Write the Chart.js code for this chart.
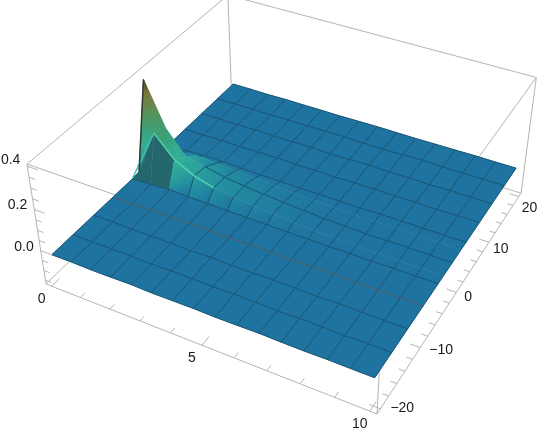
<!DOCTYPE html>
<html lang="en">
<head>
    <meta charset="UTF-8">
    <title>Surface plot</title>
    <script src="https://cdn.jsdelivr.net/npm/chart.js"></script>
    <style>
        body { margin: 0; background: #ffffff; }
        canvas { display: block; }
    </style>
</head>
<body>
    <canvas id="surfaceChart" width="540" height="437"></canvas>

    <script>
        // axis values
        const xNodes = [0, 0.667, 1.333, 2, 2.667, 3.333, 4, 4.667, 5.333, 6, 6.667, 7.333, 8, 8.667, 9.333, 10];
        const yNodes = [-20, -16, -12, -8, -4, -2.5, 0, 2.5, 4, 8, 12, 16, 20];
        const yMeshNodes = [-20, -16, -12, -8, -4, 0, 4, 8, 12, 16, 20];
        const xMajorTicks = [0, 5, 10];
        const xMinorTicks = [1, 2, 3, 4, 6, 7, 8, 9];
        const yMajorTicks = [-20, -10, 0, 10, 20];
        const yMinorTicks = [-18, -16, -14, -12, -8, -6, -4, -2, 2, 4, 6, 8, 12, 14, 16, 18];
        const zMajorTicks = [0.0, 0.2, 0.4];
        const zMinorTicks = [-0.15, -0.1, -0.05, 0.05, 0.1, 0.15, 0.25, 0.3, 0.35];
        const xLabels = ['0', '5', '10'];
        const yLabels = ['\u221220', '\u221210', '0', '10', '20'];
        const zLabels = ['0.0', '0.2', '0.4'];

        // surface heights, one row per yNodes entry, one column per xNodes entry
        const zRow0  = [-.030, -.029, -.031, -.030, -.028, -.031, -.030, -.029, -.031, -.030, -.028, -.030, -.031, -.029, -.030, -.030];
        const zRow1  = [-.030, -.031, -.029, -.030, -.032, -.029, -.030, -.031, -.028, -.030, -.032, -.029, -.030, -.031, -.029, -.030];
        const zRow2  = [-.030, -.028, -.031, -.029, -.030, -.032, -.028, -.030, -.031, -.029, -.030, -.032, -.028, -.030, -.031, -.030];
        const zRow3  = [-.030, -.031, -.028, -.032, -.029, -.030, -.032, -.028, -.030, -.032, -.029, -.028, -.032, -.030, -.029, -.030];
        const zRow4  = [-.030, -.024, -.020, -.022, -.024, -.026, -.027, -.028, -.029, -.030, -.031, -.030, -.031, -.029, -.030, -.030];
        const zRow5  = [-.026, .200, .100, .050, .022, .008, -.002, -.010, -.018, -.024, -.028, -.030, -.030, -.031, -.030, -.030];
        const zRow6  = [.380, .170, .060, .040, .018, .006, -.003, -.011, -.018, -.024, -.028, -.030, -.030, -.029, -.030, -.030];
        const zRow7  = [-.028, -.005, .008, .002, -.004, -.010, -.016, -.021, -.025, -.028, -.030, -.030, -.030, -.031, -.030, -.030];
        const zRow8  = [-.030, -.028, -.024, -.024, -.026, -.028, -.029, -.030, -.029, -.030, -.031, -.029, -.030, -.030, -.031, -.030];
        const zRow9  = [-.030, -.032, -.029, -.031, -.030, -.028, -.031, -.030, -.032, -.029, -.030, -.031, -.029, -.032, -.030, -.030];
        const zRow10 = [-.030, -.029, -.031, -.028, -.031, -.030, -.029, -.032, -.030, -.028, -.031, -.030, -.032, -.029, -.030, -.030];
        const zRow11 = [-.030, -.031, -.030, -.032, -.029, -.031, -.030, -.029, -.031, -.032, -.030, -.028, -.030, -.031, -.029, -.030];
        const zRow12 = [-.030, -.030, -.031, -.029, -.030, -.030, -.031, -.030, -.029, -.030, -.031, -.030, -.030, -.029, -.030, -.030];
        const zRows = [zRow0, zRow1, zRow2, zRow3, zRow4, zRow5, zRow6, zRow7, zRow8, zRow9, zRow10, zRow11, zRow12];

        // height colours, low to high
        const colorHeights = [-0.03, -0.01, 0.01, 0.04, 0.09, 0.16, 0.24, 0.32, 0.38];
        const colorStops = [[31, 115, 160], [32, 125, 160], [34, 138, 160], [40, 155, 158], [50, 175, 150], [60, 160, 120], [90, 145, 85], [125, 120, 60], [60, 55, 35]];

        // box limits
        const xMin = -0.2, xMax = 10.2;
        const yMin = -20.8, yMax = 20.8;
        const zMin = -0.17, zMax = 0.41;

        // perspective camera, from where the box corners land in the window
        const corner = { o: [46, 284], u: [377, 414], v: [232, 105], w: [27, 164] };
        const depth = { u: 0.89, v: 1.2, w: 0.93 };

        function project(x, y, z) {
            const a = (x - xMin) / (xMax - xMin);
            const b = (y - yMin) / (yMax - yMin);
            const c = (z - zMin) / (zMax - zMin);
            const d = 1 + a * (depth.u - 1) + b * (depth.v - 1) + c * (depth.w - 1);
            const px = corner.o[0] + a * (depth.u * corner.u[0] - corner.o[0]) + b * (depth.v * corner.v[0] - corner.o[0]) + c * (depth.w * corner.w[0] - corner.o[0]);
            const py = corner.o[1] + a * (depth.u * corner.u[1] - corner.o[1]) + b * (depth.v * corner.v[1] - corner.o[1]) + c * (depth.w * corner.w[1] - corner.o[1]);
            return { x: px / d, y: py / d };
        }

        function heightColor(z) {
            let i = 0;
            while (i < colorHeights.length - 2 && z > colorHeights[i + 1]) i++;
            let t = (z - colorHeights[i]) / (colorHeights[i + 1] - colorHeights[i]);
            t = Math.max(0, Math.min(1, t));
            const c = colorStops[i].map((v, n) => Math.round(v + (colorStops[i + 1][n] - v) * t));
            return 'rgb(' + c.join(',') + ')';
        }

        const canvas = document.getElementById('surfaceChart');
        const ctx = canvas.getContext('2d');
        const paintList = [];   // back to front

        function addLine(points, color, width) {
            paintList.push({
                data: points,
                borderColor: color,
                borderWidth: width,
                pointRadius: 0,
                fill: false,
                tension: 0
            });
        }

        // box edges
        const boxColor = '#b4b4b4';
        const boxEdges = [
            [[xMin, yMin, zMin], [xMax, yMin, zMin]],
            [[xMin, yMin, zMin], [xMin, yMax, zMin]],
            [[xMax, yMin, zMin], [xMax, yMax, zMin]],
            [[xMin, yMax, zMin], [xMax, yMax, zMin]],
            [[xMin, yMin, zMax], [xMax, yMin, zMax]],
            [[xMin, yMin, zMax], [xMin, yMax, zMax]],
            [[xMax, yMin, zMax], [xMax, yMax, zMax]],
            [[xMin, yMax, zMax], [xMax, yMax, zMax]],
            [[xMin, yMin, zMin], [xMin, yMin, zMax]],
            [[xMax, yMin, zMin], [xMax, yMin, zMax]],
            [[xMax, yMax, zMin], [xMax, yMax, zMax]],
            [[xMin, yMax, zMin], [xMin, yMax, zMax]]
        ];
        boxEdges.forEach(e => addLine([project(...e[0]), project(...e[1])], boxColor, 1));

        // ticks
        xMajorTicks.forEach(t => addLine([project(t, yMin, zMin), project(t, yMin + 1.5, zMin)], boxColor, 1));
        xMinorTicks.forEach(t => addLine([project(t, yMin, zMin), project(t, yMin + 0.9, zMin)], boxColor, 1));
        yMajorTicks.forEach(t => addLine([project(xMax, t, zMin), project(xMax - 0.3, t, zMin)], boxColor, 1));
        yMinorTicks.forEach(t => addLine([project(xMax, t, zMin), project(xMax - 0.18, t, zMin)], boxColor, 1));
        zMajorTicks.forEach(t => addLine([project(xMin, yMin, t), project(xMin + 0.35, yMin, t)], boxColor, 1));
        zMinorTicks.forEach(t => addLine([project(xMin, yMin, t), project(xMin + 0.2, yMin, t)], boxColor, 1));

        const meshColor = '#1a5676';
        const steepColor = 'rgb(36,104,110)';

        // surface cells, far rows first
        for (let j = yNodes.length - 2; j >= 0; j--) {
            for (let i = 0; i < xNodes.length - 1; i++) {
                const zs = [zRows[j][i], zRows[j][i + 1], zRows[j + 1][i + 1], zRows[j + 1][i]];
                const pts = [
                    project(xNodes[i], yNodes[j], zs[0]),
                    project(xNodes[i + 1], yNodes[j], zs[1]),
                    project(xNodes[i + 1], yNodes[j + 1], zs[2]),
                    project(xNodes[i], yNodes[j + 1], zs[3])
                ];
                const lo = zs.indexOf(Math.min(...zs));
                const hi = zs.indexOf(Math.max(...zs));
                const rise = (zs[2] + zs[3] - zs[0] - zs[1]) / 2;

                let fillColor = heightColor((zs[lo] + zs[hi]) / 2);
                if (rise > 0.1 && zs[hi] < 0.3) {
                    fillColor = steepColor;   // front slope of the ridge is in shade
                } else if (zs[hi] - zs[lo] > 0.006) {
                    const g = ctx.createLinearGradient(pts[lo].x, pts[lo].y, pts[hi].x, pts[hi].y);
                    g.addColorStop(0, heightColor(zs[lo]));
                    colorHeights.forEach(h => {
                        if (h > zs[lo] && h < zs[hi]) g.addColorStop((h - zs[lo]) / (zs[hi] - zs[lo]), heightColor(h));
                    });
                    g.addColorStop(1, heightColor(zs[hi]));
                    fillColor = g;
                }
                paintList.push({
                    data: [...pts, pts[0]],
                    backgroundColor: fillColor,
                    borderColor: fillColor,
                    borderWidth: 0.5,
                    pointRadius: 0,
                    fill: 'shape',
                    tension: 0
                });

                // mesh lines stay off the tall part of the ridge
                const flatEnough = (a, b) => Math.max(a, b) < 0.06;
                if (yMeshNodes.includes(yNodes[j + 1]) && flatEnough(zs[2], zs[3])) addLine([pts[3], pts[2]], meshColor, 1);
                if (yMeshNodes.includes(yNodes[j]) && flatEnough(zs[0], zs[1])) addLine([pts[0], pts[1]], meshColor, 1);
                if (flatEnough(zs[0], zs[3])) addLine([pts[0], pts[3]], meshColor, 1);
                if (flatEnough(zs[1], zs[2])) addLine([pts[1], pts[2]], meshColor, 1);
            }
        }

        // the brownish mesh line across the flat part
        addLine(xNodes.map((x, i) => project(x, yNodes[3], zRows[3][i])), '#56666f', 1);

        // bright streaks and the dark edge of the spike
        addLine([1, 2, 3, 4].map(i => project(xNodes[i], yNodes[5], zRows[5][i])), '#55d0b0', 1.5);
        addLine([project(xNodes[0], yNodes[4], zRows[4][0]), project(xNodes[1], yNodes[5], zRows[5][1])], '#48bca2', 1.5);
        addLine([project(xNodes[0], yNodes[5], zRows[5][0]), project(xNodes[0], yNodes[6], zRows[6][0])], '#2c3a2c', 1.5);

        const yLabelDx = [10, 9, 8, 4, 3];
        const yLabelDy = [-1, 3, 5, 7, 12];
        const zLabelDy = [-3, -4, -6];

        const tickText = {
            id: 'tickText',
            afterDraw(chart) {
                const c = chart.ctx;
                c.save();
                c.font = "14px 'Liberation Sans'";
                c.fillStyle = '#1a1a1a';
                c.textBaseline = 'middle';
                c.textAlign = 'center';
                xMajorTicks.forEach((t, i) => {
                    const p = project(t, yMin, zMin);
                    c.fillText(xLabels[i], p.x - 10, p.y + 13);
                });
                c.textAlign = 'left';
                yMajorTicks.forEach((t, i) => {
                    const p = project(xMax, t, zMin);
                    c.fillText(yLabels[i], p.x + yLabelDx[i], p.y + yLabelDy[i]);
                });
                c.textAlign = 'right';
                zMajorTicks.forEach((t, i) => {
                    const p = project(xMin, yMin, t);
                    c.fillText(zLabels[i], p.x - 7, p.y + zLabelDy[i]);
                });
                c.restore();
            }
        };

        new Chart(ctx, {
            type: 'line',
            data: { datasets: paintList.reverse() },   // first dataset is painted last
            options: {
                responsive: false,
                animation: false,
                parsing: false,
                normalized: false,
                layout: { padding: 0 },
                plugins: { legend: { display: false }, tooltip: { enabled: false } },
                scales: {
                    x: { type: 'linear', display: false, min: 0, max: 540 },
                    y: { type: 'linear', display: false, min: 0, max: 437, reverse: true }
                }
            },
            plugins: [tickText]
        });
    </script>
</body>
</html>
